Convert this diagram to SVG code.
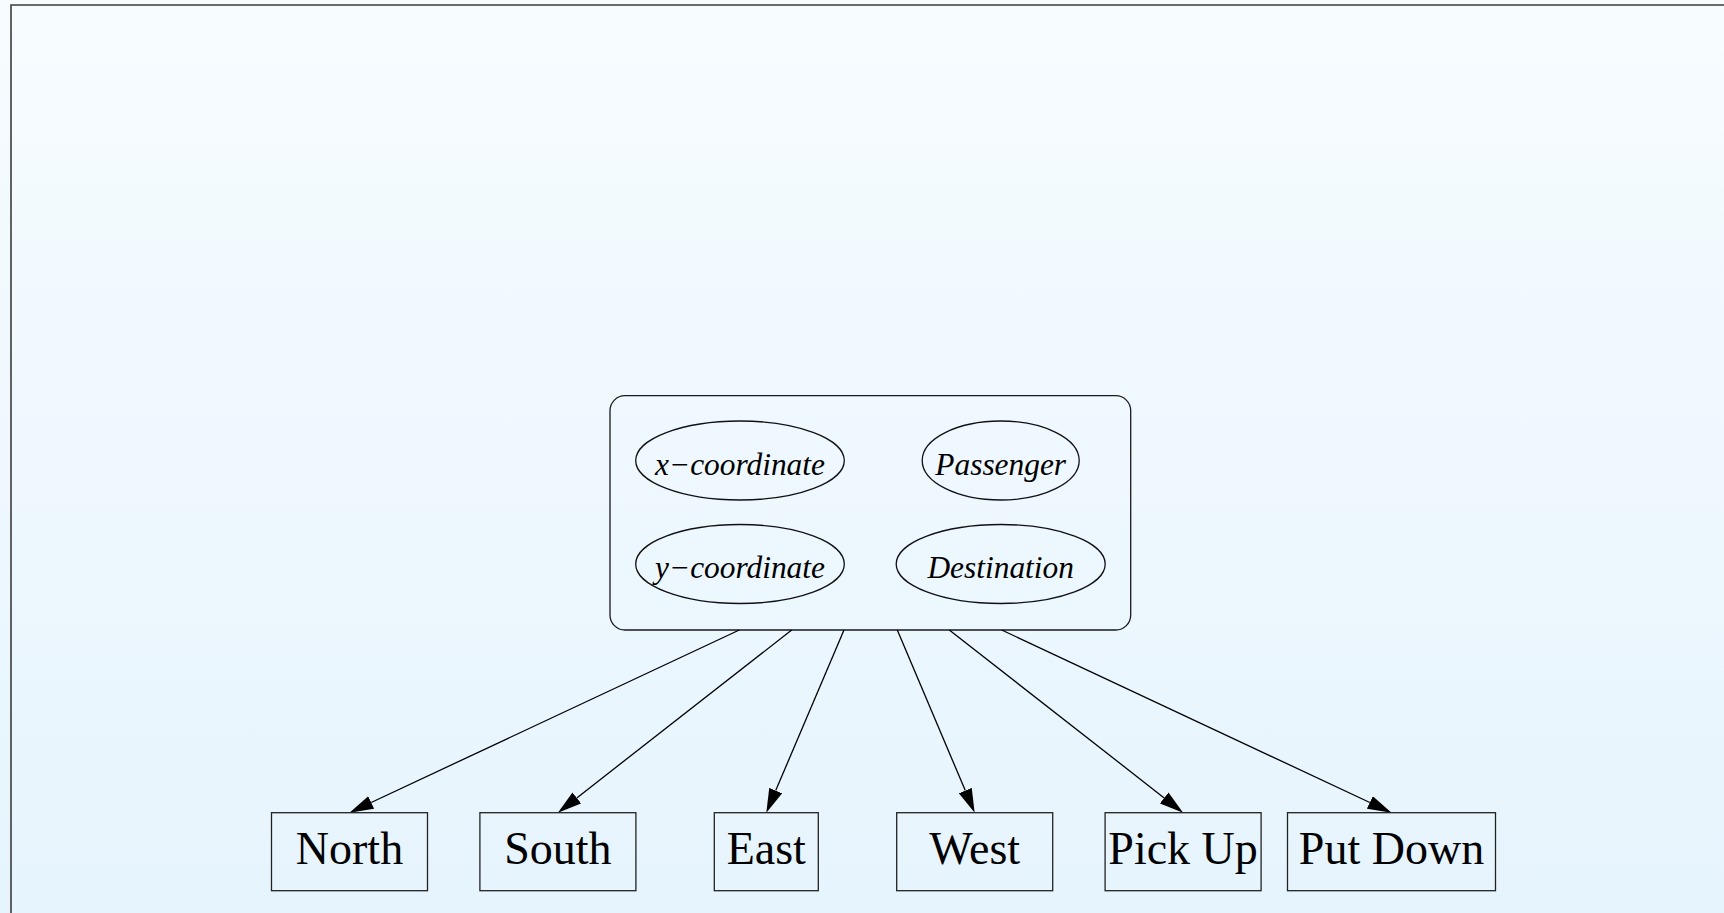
<svg xmlns="http://www.w3.org/2000/svg" width="1724" height="913" viewBox="0 0 1724 913">
  <defs>
    <linearGradient id="bg" x1="0" y1="0" x2="0" y2="1">
      <stop offset="0" stop-color="#f7fcff"/>
      <stop offset="1" stop-color="#e6f4fd"/>
    </linearGradient>
    <marker id="arrow" markerUnits="userSpaceOnUse" markerWidth="24" markerHeight="14" viewBox="0 0 24 14" refX="0" refY="7" orient="auto">
      <path d="M0,0 L24,7 L0,14 z" fill="#000"/>
    </marker>
  </defs>
  <style>
    .frame { fill: none; stroke: #3c3c3c; stroke-width: 1.6; }
    .cluster { fill: none; stroke: #1a1a1a; stroke-width: 1.3; }
    .var { fill: none; stroke: #111; stroke-width: 1.3; }
    .act { fill: none; stroke: #222; stroke-width: 1.3; }
    .edge { fill: none; stroke: #000; stroke-width: 1.3; marker-end: url(#arrow); }
    .vlabel { font-family: "Liberation Serif", "Times New Roman", serif; font-style: italic; font-size: 31.4px; text-anchor: middle; fill: #000; }
    .alabel { font-family: "Liberation Serif", "Times New Roman", serif; font-size: 46px; text-anchor: middle; fill: #000; }
  </style>

  <rect x="0" y="0" width="1724" height="913" fill="url(#bg)"/>
  <path class="frame" d="M11,913 L11,5 L1724,5"/>

  <!-- state variables cluster -->
  <g id="state">
    <rect class="cluster" x="610" y="395.7" width="520.7" height="234.3" rx="15" ry="15"/>
  </g>
  <g id="x-coordinate">
    <ellipse class="var" cx="740" cy="460.5" rx="104.3" ry="39.5"/>
    <text class="vlabel" x="740" y="474.5">x−coordinate</text>
  </g>
  <g id="passenger">
    <ellipse class="var" cx="1000.7" cy="460.5" rx="78.5" ry="39.5"/>
    <text class="vlabel" x="1000.7" y="474.5">Passenger</text>
  </g>
  <g id="y-coordinate">
    <ellipse class="var" cx="740" cy="564" rx="104.3" ry="39.5"/>
    <text class="vlabel" x="740" y="578">y−coordinate</text>
  </g>
  <g id="destination">
    <ellipse class="var" cx="1000.7" cy="564" rx="104.5" ry="39.5"/>
    <text class="vlabel" x="1000.7" y="578">Destination</text>
  </g>

  <!-- connectors from the cluster to each action -->
  <g id="connectors">
    <path class="edge" d="M739.3,630 L371.2,802.5"/>
    <path class="edge" d="M791.7,630 L576.8,797.9"/>
    <path class="edge" d="M844,630 L775.7,790.6"/>
    <path class="edge" d="M897.3,630 L965.3,790.6"/>
    <path class="edge" d="M949.3,630 L1164.2,797.9"/>
    <path class="edge" d="M1001.7,630 L1369.8,802.5"/>
  </g>

  <!-- actions -->
  <g id="north">
    <rect class="act" x="271.5" y="812.7" width="156" height="78"/>
    <text class="alabel" x="349.5" y="864">North</text>
  </g>
  <g id="south">
    <rect class="act" x="479.9" y="812.7" width="156" height="78"/>
    <text class="alabel" x="557.9" y="864">South</text>
  </g>
  <g id="east">
    <rect class="act" x="714.3" y="812.7" width="104" height="78"/>
    <text class="alabel" x="766.3" y="864">East</text>
  </g>
  <g id="west">
    <rect class="act" x="896.7" y="812.7" width="156" height="78"/>
    <text class="alabel" x="974.7" y="864">West</text>
  </g>
  <g id="pick-up">
    <rect class="act" x="1105.1" y="812.7" width="156" height="78"/>
    <text class="alabel" x="1183.1" y="864">Pick Up</text>
  </g>
  <g id="put-down">
    <rect class="act" x="1287.5" y="812.7" width="208" height="78"/>
    <text class="alabel" x="1391.5" y="864">Put Down</text>
  </g>
</svg>
